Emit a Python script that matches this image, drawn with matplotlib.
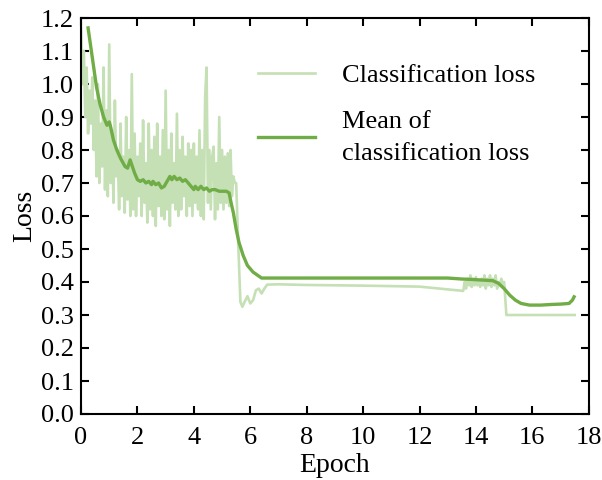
import numpy as np
import matplotlib
matplotlib.use("Agg")
import matplotlib.pyplot as plt

# raw classification loss, noisy phase (epoch 0.00 .. 5.45, step 0.05)
raw_early_epoch = np.round(np.arange(0.0, 5.47, 0.05), 2)
raw_early = [1.17, 1.00, 1.10, 0.90, 1.05, 0.85, 0.98, 0.88, 1.02, 0.80,
             0.95, 0.72, 1.00, 0.70, 0.88, 0.75, 1.05, 0.68, 0.92, 0.66,
             1.12, 0.70, 0.85, 0.64, 0.95, 0.72, 0.80, 0.62, 0.88, 0.66,
             0.78, 0.61, 0.90, 0.65, 0.80, 0.60, 1.03, 0.62, 0.85, 0.60,
             0.78, 0.66, 0.82, 0.60, 0.89, 0.64, 0.76, 0.58, 0.88, 0.62,
             0.80, 0.60, 0.84, 0.57, 0.88, 0.63, 0.78, 0.60, 0.86, 0.59,
             0.98, 0.62, 0.80, 0.57, 0.85, 0.64, 0.76, 0.62, 0.91, 0.60,
             0.80, 0.62, 0.84, 0.66, 0.78, 0.60, 0.82, 0.63, 0.80, 0.60,
             0.82, 0.64, 0.78, 0.62, 0.86, 0.60, 0.80, 0.59, 0.96, 1.05,
             0.64, 0.80, 0.62, 0.78, 0.81, 0.59, 0.76, 0.62, 0.90, 0.64,
             0.80, 0.62, 0.78, 0.64, 0.79, 0.63, 0.80, 0.66, 0.72, 0.70]

# raw loss after the drop
raw_mid_epoch = [5.5, 5.58, 5.65, 5.72, 5.8, 5.9, 6.0, 6.1, 6.2, 6.3, 6.4,
                 6.5, 6.6, 7.0, 8.0, 10.0, 12.0, 13.55]
raw_mid = [0.70, 0.50, 0.34, 0.325, 0.34, 0.357, 0.335, 0.345, 0.375, 0.38,
           0.365, 0.38, 0.392, 0.393, 0.391, 0.389, 0.386, 0.373]

# noisy phase near epoch 14 (13.6 .. 15.0, step 0.05)
raw_late_epoch = np.round(np.arange(13.6, 15.025, 0.05), 2)
raw_late = [0.40, 0.38, 0.41, 0.39, 0.42, 0.385, 0.41, 0.39, 0.415, 0.39,
            0.40, 0.385, 0.41, 0.39, 0.42, 0.38, 0.41, 0.39, 0.42, 0.385,
            0.41, 0.39, 0.42, 0.38, 0.40, 0.39, 0.41, 0.395, 0.40]

raw_end_epoch = [15.08, 17.5]
raw_end = [0.30, 0.30]

# mean of classification loss
mean_epoch = [0.25, 0.35, 0.45, 0.55, 0.67, 0.8, 0.92, 1.0, 1.05, 1.15, 1.27,
              1.4, 1.56, 1.65, 1.74, 1.82, 1.9, 2.0, 2.1, 2.2, 2.3, 2.4, 2.5,
              2.55, 2.65, 2.75, 2.85, 2.95, 3.05, 3.15, 3.22, 3.3, 3.4, 3.5,
              3.6, 3.7, 3.8, 3.9, 4.0, 4.05, 4.15, 4.25, 4.35, 4.45, 4.55,
              4.65, 4.75, 4.9, 5.0, 5.15, 5.25, 5.32, 5.4, 5.5, 5.6, 5.75,
              5.9, 6.1, 6.3, 6.4, 8.0, 10.0, 12.0, 13.0, 13.5, 13.8, 14.2,
              14.6, 14.8, 15.0, 15.2, 15.4, 15.6, 15.9, 16.3, 16.7, 17.0,
              17.3, 17.42, 17.48]
mean_loss = [1.17, 1.11, 1.05, 0.99, 0.94, 0.90, 0.875, 0.885, 0.87, 0.83,
             0.80, 0.775, 0.75, 0.745, 0.77, 0.75, 0.73, 0.71, 0.705, 0.71,
             0.70, 0.705, 0.695, 0.705, 0.695, 0.70, 0.685, 0.69, 0.705,
             0.72, 0.71, 0.72, 0.71, 0.715, 0.705, 0.71, 0.70, 0.69, 0.68,
             0.69, 0.68, 0.69, 0.68, 0.685, 0.675, 0.68, 0.68, 0.675, 0.675,
             0.675, 0.67, 0.64, 0.61, 0.56, 0.52, 0.48, 0.45, 0.43, 0.418,
             0.412, 0.412, 0.412, 0.412, 0.412, 0.409, 0.408, 0.406, 0.404,
             0.396, 0.38, 0.36, 0.345, 0.335, 0.33, 0.33, 0.332, 0.333,
             0.335, 0.345, 0.355]

raw_epoch = np.concatenate([raw_early_epoch, raw_mid_epoch, raw_late_epoch, raw_end_epoch])
raw_loss = np.concatenate([raw_early, raw_mid, raw_late, raw_end])

plt.rcParams['font.family'] = ['Liberation Serif', 'DejaVu Serif']

fig = plt.figure(figsize=(6.02, 4.8), dpi=100)
ax = fig.add_axes([0.1346, 0.1375, 0.8434, 0.825])

ax.plot(raw_epoch, raw_loss, color='#c5e0b4', lw=1.9, label='Classification loss')
ax.plot(mean_epoch, mean_loss, color='#70ad47', lw=2.4, label='Mean of\nclassification loss')

ax.set_xlim(0, 18)
ax.set_ylim(0, 1.2)
ax.set_xticks(np.arange(0, 19, 2))
yt = np.round(np.arange(0, 1.21, 0.1), 1)
ax.set_yticks(yt)
ax.set_yticklabels(['%.1f' % v for v in yt])
ax.tick_params(direction='in', top=True, right=True, length=6, width=1.5,
               labelsize=19, pad=5)
ax.tick_params(axis='x', pad=9)
for s in ax.spines.values():
    s.set_linewidth(1.5)

ax.set_xlabel('Epoch', fontsize=20, labelpad=3)
ax.set_ylabel('Loss', fontsize=20, labelpad=3)

leg = ax.legend(loc='upper left', frameon=False, fontsize=19, handlelength=2.16,
                handletextpad=1.0, labelspacing=0.9, borderaxespad=0,
                bbox_to_anchor=(0.328, 0.911))
for t in leg.get_texts():
    t.set_linespacing(1.6)

fig.savefig('out.png', dpi=100)
